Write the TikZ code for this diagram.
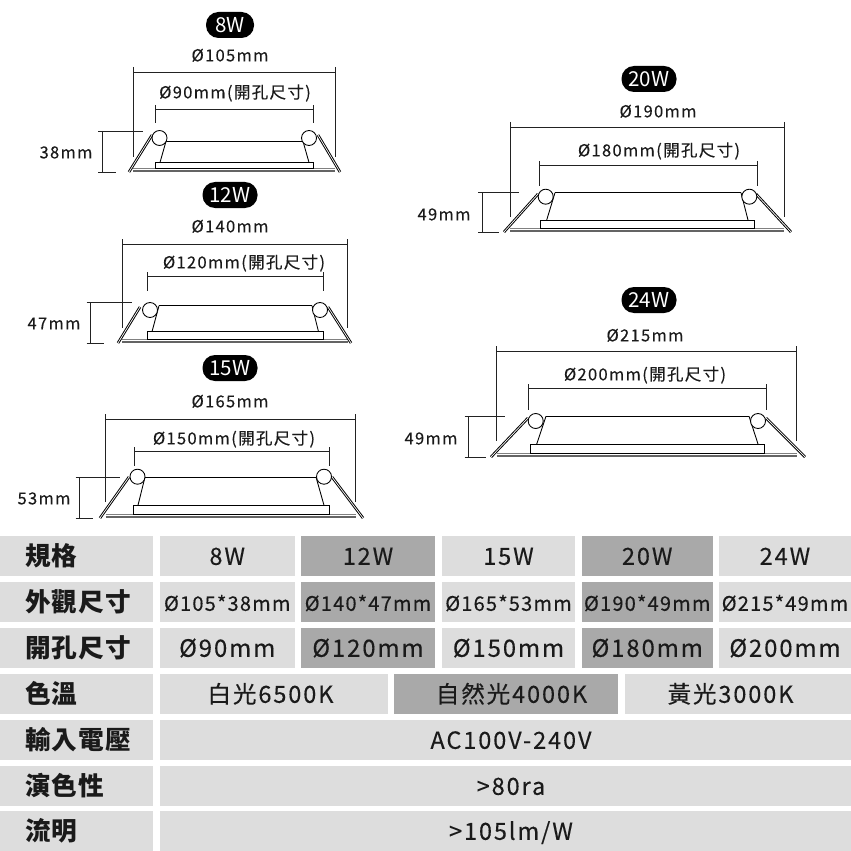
\documentclass[tikz,border=0pt]{standalone}
\usepackage{fontspec}
\newfontfamily\cjk[LetterSpace=8,FakeBold=0.25]{Noto Sans CJK TC}
\newfontfamily\cjktight[LetterSpace=6,FakeBold=0.25]{Noto Sans CJK TC}
\newfontfamily\cjkname[LetterSpace=4]{Noto Sans CJK TC}
\newfontfamily\cjkplain{Noto Sans CJK TC}
\definecolor{lightcell}{HTML}{DDDDDD}
\definecolor{darkcell}{HTML}{A9A9A9}
\definecolor{inkline}{HTML}{222222}
\definecolor{inktext}{HTML}{1A1A1A}
\def\px{0.02cm}
\begin{document}
\begin{tikzpicture}[
        x=\px, y=-\px,
        dimline/.style={draw=inkline,line width=0.55pt},
        bodyline/.style={draw=black,line width=0.5pt},
        baseline/.style={draw=inkline!70,line width=0.8pt},
        armline/.style={draw=black,line width=0.55pt,double=white,double distance=0.4pt},
        tag/.style={fill=black,text=white,rounded corners=0.25cm,inner sep=0pt,minimum height=26*\px,
            font=\cjkplain\fontsize{11.7}{13}\selectfont,text height=8.6pt,text depth=0pt},
        dimtext/.style={text=inktext,inner sep=0pt,font=\cjk\fontsize{9.4}{10}\selectfont,text height=7.2pt,text depth=0pt},
        cell/.style={inner sep=0pt,outer sep=0pt,text=inktext,minimum height=40*\px,
            font=\cjk\fontsize{13.4}{14}\selectfont,text height=10pt,text depth=0pt},
        rowname/.style={cell,fill=lightcell,minimum width=153*\px,text width=103*\px,align=left,
            font=\cjkname\bfseries\fontsize{14.6}{15}\selectfont,text height=10.6pt}
    ]
    \useasboundingbox (0,0) rectangle (851,851);

    % Lamps
    \foreach \outL/\outR/\outY/\outB/\inL/\inR/\inY/\inB/\cirL/\cirR/\cirY/\topL/\topR/\topY/\flL/\flR/\flT/\baseY/\slIn/\hX/\hT/\hTo/\hBo/\armL/\armR/\armY/\endL/\endR in {
        133/335/72/157/155.5/313.5/109/123/159.5/309/138/166/303/141.3/155.5/313.5/162.5/171/4.5/102/131/143/116/152/318/135/129/340,
        122/347.5/244/327.7/147/323.5/276/291/150/320/310/159/312/305.7/147/323.5/331.7/342/5/90.5/302/132/104/140/328/307/118/351,
        105.5/355.5/419/501.7/134/329.5/451/466/137.5/324/476.7/145/316/477/133/329/505.3/517/5/79.5/477/120/93/129/332/477/100/363,
        510/784/127/216.7/539/757/165/186/545.7/749.3/196.7/555/741/192.7/540.7/754/220/231/6/482/192.3/519/499/538/756/194/504/791,
        496.7/796.7/351/440.7/528/766.5/388.3/410/535.7/758/421/546/749/416.3/530/764.7/444/456/6.7/468.7/416.5/505/486/528/766/418/491/805%
    }{
        % Cotas
        \draw[dimline] (\outL,\outY-5) -- (\outL,\outB) (\outR,\outY-5) -- (\outR,\outB) (\outL,\outY) -- (\outR,\outY);
        \draw[dimline] (\inL,\inY-4) -- (\inL,\inB) (\inR,\inY-4) -- (\inR,\inB) (\inL,\inY) -- (\inR,\inY);
        \draw[dimline] (\hX-4,\hT) -- (\hTo,\hT) (\hX,\hT) -- (\hX,\baseY+1) (\hX-4,\baseY+1) -- (\hBo,\baseY+1);
        % Cuerpo
        \draw[dimline,draw=gray] (\outL,\baseY-3) -- (\outR,\baseY-3);
        \draw[baseline] (\outL,\baseY) -- (\outR,\baseY);
        \draw[bodyline] (\topL,\topY) -- (\topR,\topY);
        \draw[bodyline] (\topL,\topY) -- (\flL+\slIn,\flT) (\topR,\topY) -- (\flR-\slIn,\flT);
        \draw[bodyline,fill=white] (\flL,\flT) rectangle (\flR,\baseY-3);
        \draw[armline] (\armL,\armY) -- (\endL,\baseY+1);
        \draw[armline] (\armR,\armY) -- (\endR,\baseY+1);
        \draw[bodyline,fill=white] (\cirL,\cirY) circle[radius=7.5];
        \draw[bodyline,fill=white] (\cirR,\cirY) circle[radius=7.5];
    }

    % Rotulos
    \foreach \watt/\tagW/\tagX/\tagY/\outX/\outY/\inX/\inY/\outTxt/\inTxt/\hgtX/\hgtY/\hgtTxt in {
        8W/48/230/25/230/55/235/92/105/90/66/152/38,
        12W/55/230/195/230/226/244/262/140/120/54/323/47,
        15W/55/230/368/230/401/234/438/165/150/44/498/53,
        20W/55/649/79/658/111/659/150/190/180/444/214/49,
        24W/55/649/300/645/335/645/374/215/200/431/438/49%
    }{
        \node[tag,minimum width=\tagW*\px] (tag\watt) at (\tagX,\tagY) {\watt};
        \node[dimtext] (outer\watt) at (\outX,\outY) {Ø\outTxt mm};
        \node[dimtext] (inner\watt) at (\inX,\inY) {Ø\inTxt mm(開孔尺寸)};
        \node[dimtext] (height\watt) at (\hgtX,\hgtY) {\hgtTxt mm};
    }

    % Tabla
    \foreach \rowT/\rowName/\txtA/\txtB/\txtC/\txtD/\txtE/\cellFont in {
        536/規格/8W/12W/15W/20W/24W/\cjk\fontsize{13.4}{14},
        582/外觀尺寸/Ø105*38mm/Ø140*47mm/Ø165*53mm/Ø190*49mm/Ø215*49mm/\cjktight\fontsize{11.4}{14},
        628/開孔尺寸/Ø90mm/Ø120mm/Ø150mm/Ø180mm/Ø200mm/\cjk\fontsize{13.6}{14}%
    }{
        \node[rowname] (name\rowT) at (76.5,\rowT+20) {\rowName};
        \foreach \colL/\colR/\txt/\cellFill/\colN in {
            160/294.5/\txtA/lightcell/a, 301/435/\txtB/darkcell/b, 442/575/\txtC/lightcell/c,
            582/712.5/\txtD/darkcell/d, 719/851/\txtE/lightcell/e%
        }{
            \node[cell,fill=\cellFill,minimum width={(\colR-\colL)*\px},font=\cellFont\selectfont]
                (cell\rowT\colN) at ({(\colL+\colR)/2},\rowT+20) {\txt};
        }
    }
    \node[rowname] (name674) at (76.5,694) {色溫};
    \foreach \colL/\colR/\txtX/\txt/\cellFill/\colN in {
        160/388/270.5/白光6500K/lightcell/a, 394/618/511.5/自然光4000K/darkcell/b, 625/851/730.5/黃光3000K/lightcell/c%
    }{
        \node[cell,fill=\cellFill,minimum width={(\colR-\colL)*\px}] (cell674\colN) at ({(\colL+\colR)/2},694) {};
        \node[cell] (text674\colN) at (\txtX,694) {\txt};
    }
    \foreach \rowT/\rowName/\txt in {720/輸入電壓/AC100V-240V, 766/演色性/>80ra, 811/流明/{>105lm/W}}{
        \node[rowname] (name\rowT) at (76.5,\rowT+20) {\rowName};
        \node[cell,fill=lightcell,minimum width=691*\px] (cell\rowT) at (505.5,\rowT+20) {};
        \node[cell] (text\rowT) at (511,\rowT+20) {\txt};
    }
\end{tikzpicture}
\end{document}
